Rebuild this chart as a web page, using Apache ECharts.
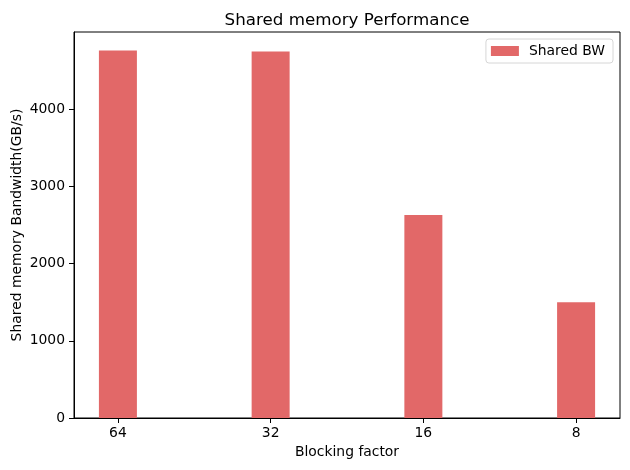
<!DOCTYPE html>
<html>
<head>
<meta charset="utf-8">
<script src="https://cdn.jsdelivr.net/npm/echarts@6/dist/echarts.min.js"></script>
<style>
  html, body { margin: 0; padding: 0; background: #fff; }
  #chart { width: 630px; height: 470px; }
</style>
</head>
<body>
<div id="chart"></div>
<script>
// data
var categories = ['64', '32', '16', '8'];
var sharedBW = [4760, 4745, 2630, 1500];
var yTicks = [0, 1000, 2000, 3000, 4000];

var font = 'DejaVu Sans';
var myChart = echarts.init(document.getElementById('chart'));

// matplotlib style limits: bars of width 0.25 on positions 0..n-1, 5% margins
var xMin = -0.125 - 0.05 * (categories.length - 1 + 0.25);
var xMax = categories.length - 1 + 0.125 + 0.05 * (categories.length - 1 + 0.25);
var yMax = Math.max.apply(null, sharedBW) * 1.05;

var option = {
  backgroundColor: '#fff',
  animation: false,
  textStyle: { fontFamily: font },
  title: {
    text: 'Shared memory Performance',
    left: 342,
    top: 7,
    textAlign: 'center',
    textStyle: { fontFamily: font, fontSize: 16.7, fontWeight: 'normal', color: '#000' }
  },
  legend: {
    data: ['Shared BW'],
    right: 17,
    top: 39,
    orient: 'vertical',
    icon: 'rect',
    itemWidth: 28,
    itemHeight: 10,
    itemGap: 8,
    padding: [5, 8, 5, 5],
    borderColor: '#d6d6d6',
    borderWidth: 1,
    borderRadius: 3,
    textStyle: { fontFamily: font, fontSize: 13.9, color: '#000', padding: [0, 0, 0, 5] }
  },
  grid: {
    left: 74,
    right: 10,
    top: 32,
    bottom: 52,
    show: true,
    borderColor: '#000',
    borderWidth: 1,
    containLabel: false,
    outerBoundsMode: 'none'
  },
  xAxis: {
    type: 'value',
    min: xMin,
    max: xMax,
    name: 'Blocking factor',
    nameLocation: 'middle',
    nameGap: 27,
    nameMoveOverlap: false,
    nameTextStyle: { fontFamily: font, fontSize: 13.9, color: '#000' },
    axisLine: { show: true, onZero: false, lineStyle: { color: '#000', width: 1 } },
    axisTick: { show: true, inside: false, length: 5, customValues: categories.map(function (c, i) { return i; }), lineStyle: { color: '#000' } },
    axisLabel: {
      customValues: categories.map(function (c, i) { return i; }),
      margin: 8,
      fontFamily: font,
      fontSize: 13.9,
      color: '#000',
      formatter: function (v) { return categories[Math.round(v)]; }
    },
    splitLine: { show: false }
  },
  yAxis: {
    type: 'value',
    min: 0,
    max: yMax,
    name: 'Shared memory Bandwidth(GB/s)',
    nameLocation: 'middle',
    nameGap: 50,
    nameMoveOverlap: false,
    nameTextStyle: { fontFamily: font, fontSize: 13.9, color: '#000' },
    axisLine: { show: true, onZero: false, lineStyle: { color: '#000', width: 1 } },
    axisTick: { show: true, inside: false, length: 5, customValues: yTicks, lineStyle: { color: '#000' } },
    axisLabel: {
      customValues: yTicks,
      margin: 9,
      fontFamily: font,
      fontSize: 13.9,
      color: '#000',
      formatter: function (v) { return String(v); }
    },
    splitLine: { show: false }
  },
  series: [
    {
      name: 'Shared BW',
      type: 'bar',
      barWidth: 38,
      data: sharedBW.map(function (v, i) { return [i, v]; }),
      itemStyle: { color: '#e26868' }
    }
  ]
};

myChart.setOption(option);
</script>
</body>
</html>
